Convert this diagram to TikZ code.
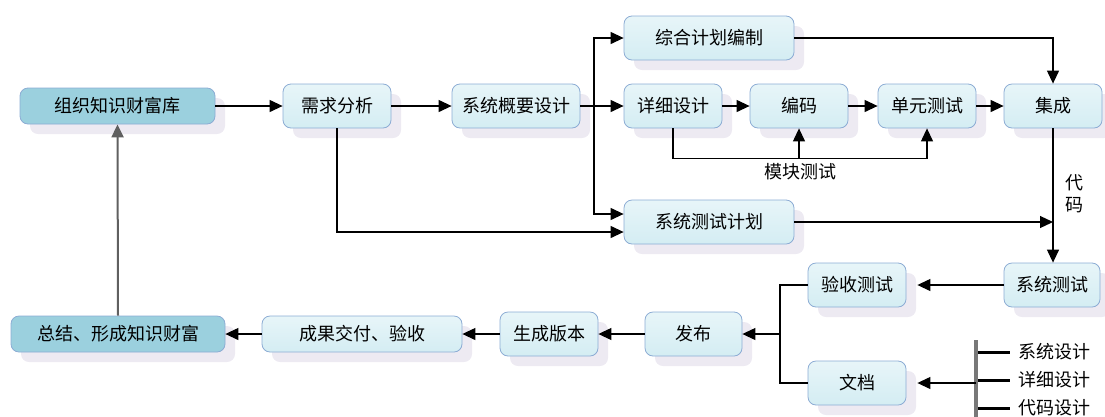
\documentclass[tikz,border=0pt]{standalone}
\usepackage{fontspec}
\setmainfont{Noto Sans CJK SC}
\usetikzlibrary{arrows.meta,shadows,calc}

\definecolor{boxline}{RGB}{140,172,212}
\definecolor{boxfill}{RGB}{212,237,243}
\definecolor{darkfill}{RGB}{155,208,222}
\definecolor{shadowc}{RGB}{237,234,242}
\definecolor{barc}{RGB}{120,120,120}

\tikzset{
  proc/.style={draw=boxline, line width=0.8pt, rounded corners=8pt, inner sep=0pt,
    top color=boxfill!55!white, bottom color=boxfill, minimum height=44,
    drop shadow={shadow xshift=10pt, shadow yshift=-10pt, fill=shadowc, opacity=1},
    font=\fontsize{18}{22}\selectfont},
  bank/.style={proc, minimum height=36, top color=darkfill, bottom color=darkfill},
  arr/.style={line width=1.2pt, -{Triangle[length=13pt,width=12pt]}},
  link/.style={line width=1.2pt},
  txt/.style={font=\fontsize{18}{22}\selectfont, inner sep=0pt}
}

\begin{document}
\begin{tikzpicture}[x=1pt, y=-1pt]
        \useasboundingbox (0,0) rectangle (1105,416);
        % Start and end of the cycle
        \node[bank, minimum width=195] (ku) at (117.5,106) {组织知识财富库};
        \node[bank, minimum width=214] (zongjie) at (118,334) {总结、形成知识财富};
        % Analysis and design
        \node[proc, minimum width=108] (xuqiu) at (337,106) {需求分析};
        \node[proc, minimum width=128] (gaiyao) at (516,106) {系统概要设计};
        \node[proc, minimum width=170] (zonghe) at (709,38) {综合计划编制};
        \node[proc, minimum width=98] (xiangxi) at (673,106) {详细设计};
        \node[proc, minimum width=98] (bianma) at (799,106) {编码};
        \node[proc, minimum width=98] (danyuan) at (927,106) {单元测试};
        \node[proc, minimum width=98] (jicheng) at (1053,106) {集成};
        \node[proc, minimum width=170] (jihua) at (709,222) {系统测试计划};
        % Testing and release
        \node[proc, minimum width=96] (xitong) at (1052,285) {系统测试};
        \node[proc, minimum width=98] (yanshou) at (857,285) {验收测试};
        \node[proc, minimum width=98] (wendang) at (857,383) {文档};
        \node[proc, minimum width=97] (fabu) at (693.5,334) {发布};
        \node[proc, minimum width=98] (banben) at (549,334) {生成版本};
        \node[proc, minimum width=200, minimum height=36] (jiaofu) at (362,334) {成果交付、验收};

        % Top row
        \draw[arr] (ku.east) -- (xuqiu.west);
        \draw[arr] (xuqiu.west -| xuqiu.east) -- (gaiyao.west);
        \draw[arr] (xuqiu.south) |- ($(jihua.west)+(0,10)$);
        \coordinate (split) at (594,106);
        \draw[arr] (gaiyao.east) -- (xiangxi.west);
        \draw[arr] (split) |- (zonghe.west);
        \draw[arr] (split) |- ($(jihua.west)+(0,-8)$);
        \draw[arr] (xiangxi.east) -- (bianma.west);
        \draw[arr] (bianma.east) -- (danyuan.west);
        \draw[arr] (danyuan.east) -- (jicheng.west);
        % Module test loop
        \coordinate (mk) at ($(xiangxi.south)+(0,30)$);
        \draw[arr] (xiangxi.south) -- (mk) -| (danyuan.south);
        \draw[arr] (mk -| bianma.south) -- (bianma.south);
        \node[txt] (mklabel) at (800,172) {模块测试};
        % Into integration and system test
        \draw[arr] (zonghe.east) -| (jicheng.north);
        \draw[arr] (jicheng.south) -- (jicheng.south |- xitong.north);
        \draw[arr] (jihua.east) -- (jihua.east -| jicheng.south);
        \node[txt, align=center] (daima) at (1074,194) {代\\码};
        % Back along the bottom
        \draw[arr] (xitong.west) -- ($(yanshou.east)+(11,0)$);
        \coordinate (merge) at (780,334);
        \draw[link] (yanshou.west) -| (merge);
        \draw[link] (wendang.west) -| (merge);
        \draw[arr] (merge) -- (fabu.east);
        \draw[arr] (fabu.west) -- (banben.east);
        \draw[arr] (banben.west) -- (jiaofu.east);
        \draw[arr] (jiaofu.west) -- (zongjie.east);
        \draw[arr, draw=barc!80!black, line width=2pt] (zongjie.north) -- (ku.south);

        % Document list
        \draw[barc, line width=4pt] (976,340) coordinate (bartop) -- (976,420);
        \coordinate (legbar) at (976,383);
        \draw[arr] (legbar) -- ($(wendang.east)+(11,0)$);
        \foreach \y/\t [count=\i] in {352/系统设计, 380/详细设计, 408/代码设计} {
          \draw[line width=3pt] (978,\y) -- (1010,\y) node[txt, right=7pt] (leg\i) {\t};
        }
    \end{tikzpicture}
\end{document}
